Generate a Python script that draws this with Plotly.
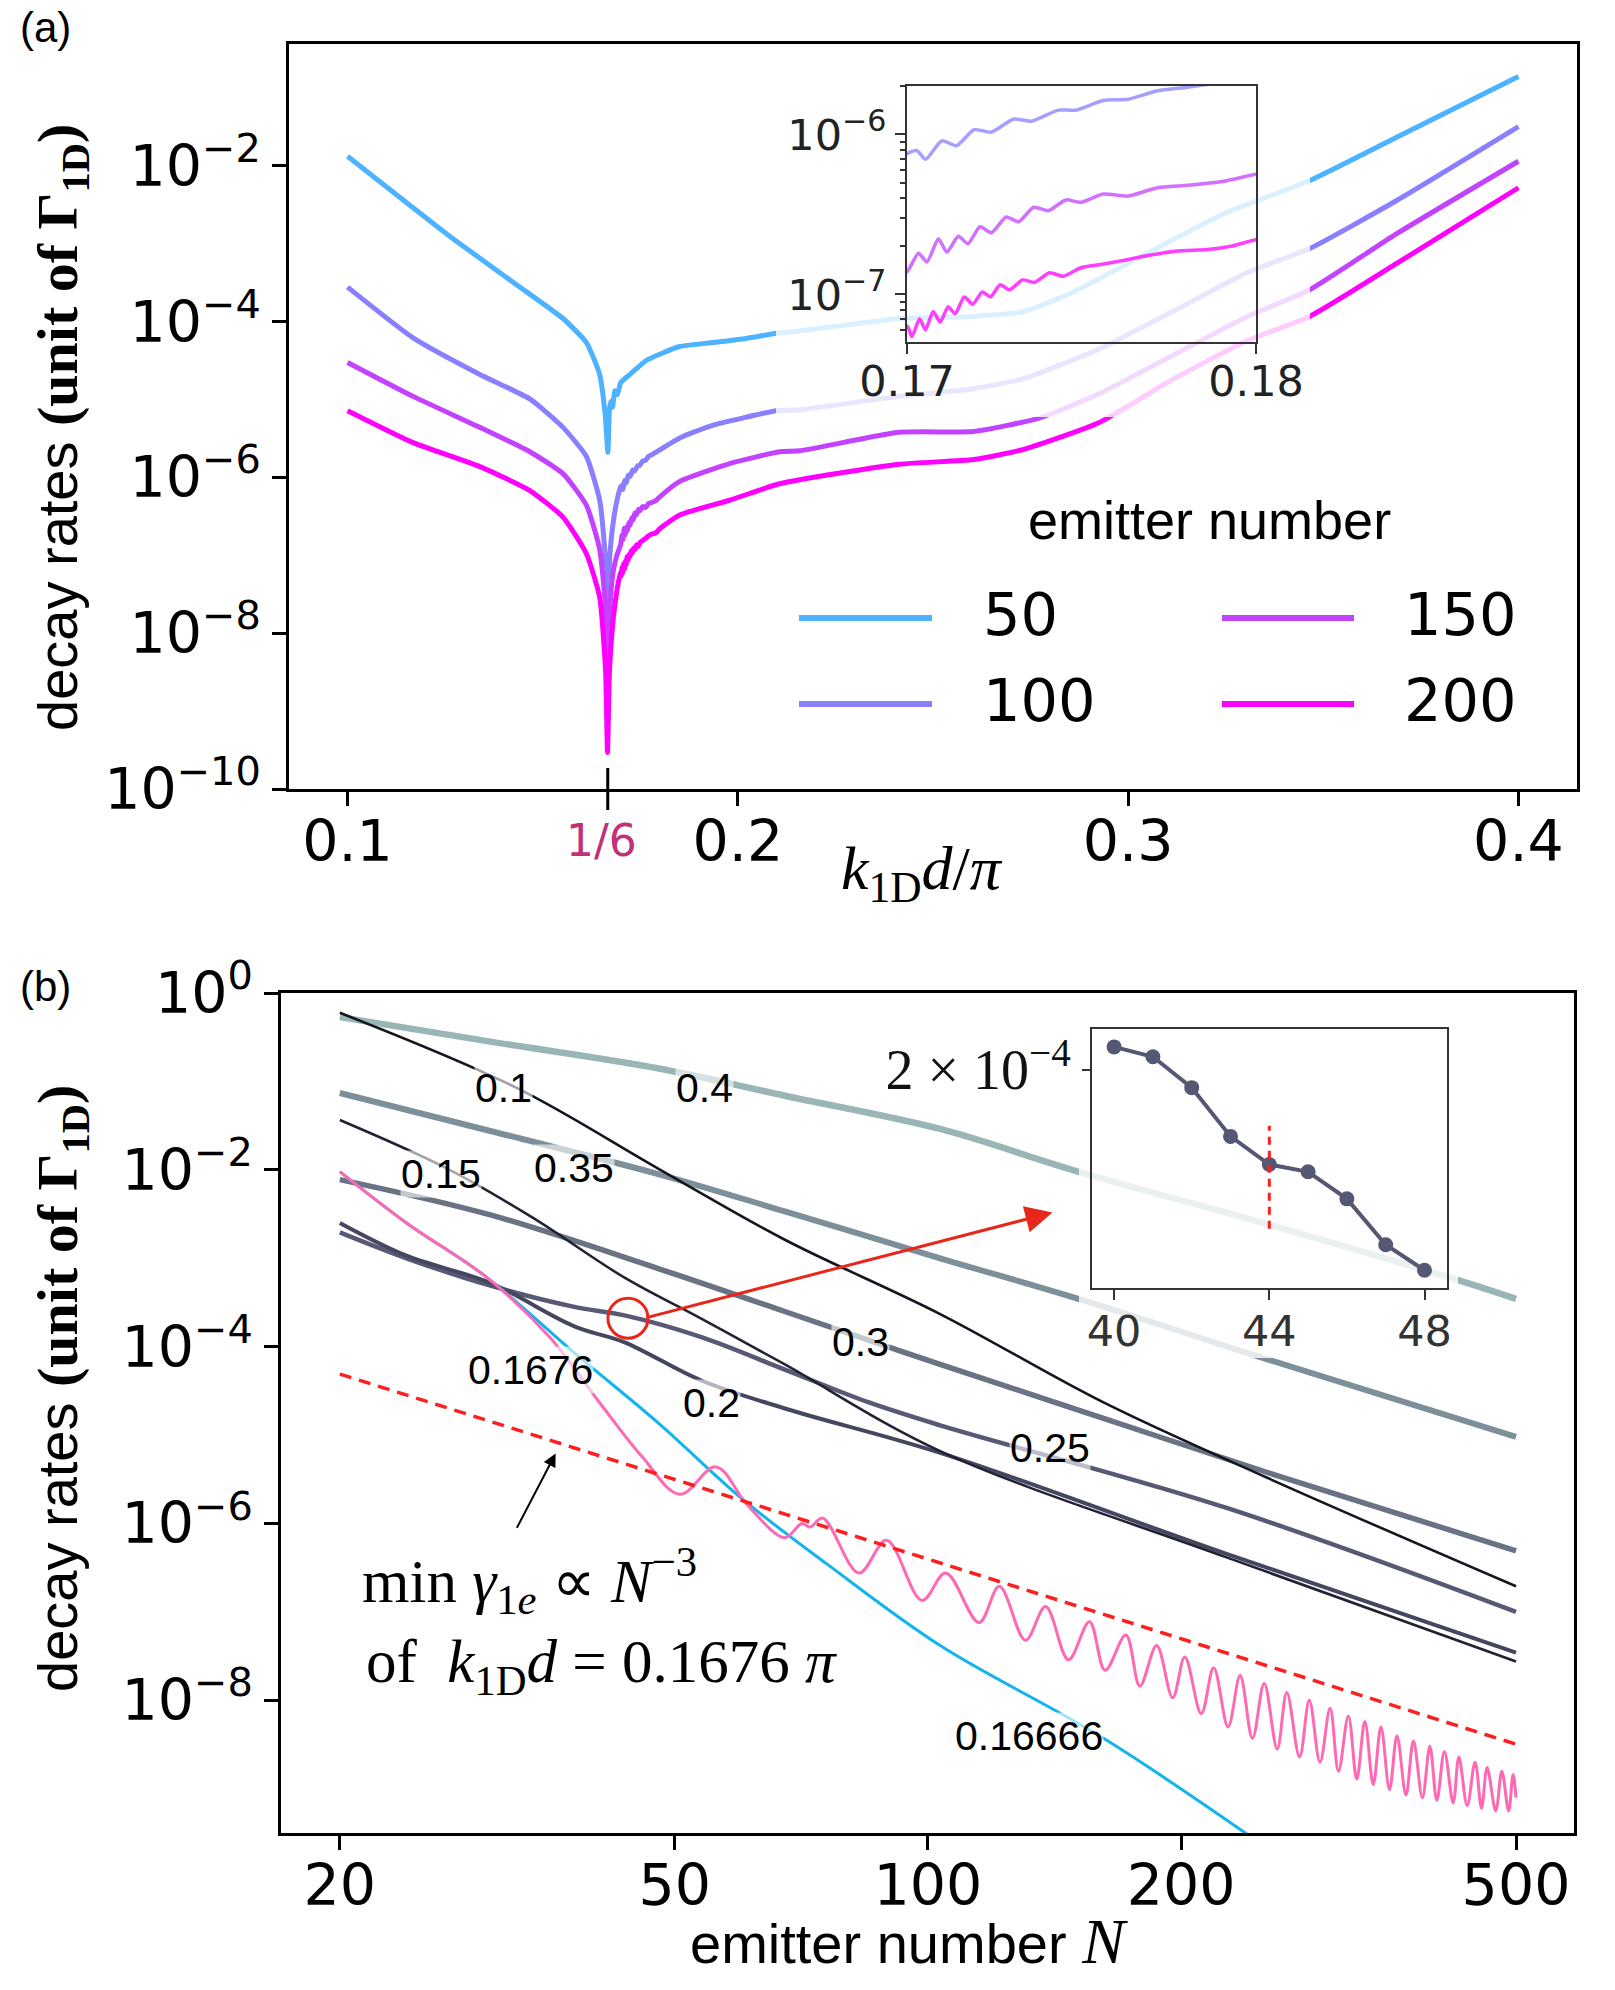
import plotly.graph_objects as go
import numpy as np

W, H = 1615, 1990

# ======================= DATA : panel (a) =======================
emitter_numbers = [50, 100, 150, 200]

kd_N50 = [0.1000, 0.1254, 0.1424, 0.1552, 0.1612, 0.1646, 0.1660, 0.1667, 0.1671, 0.1675,
          0.1679, 0.1685, 0.1691, 0.1700, 0.1723, 0.1766, 0.1851, 0.1937, 0.2022, 0.2099,
          0.2158, 0.2413, 0.2604, 0.2732, 0.2859, 0.3050, 0.3242, 0.3465, 0.3688, 0.4000]
rate_N50 = [1.33e-2, 1.34e-3, 3.21e-4, 1.10e-4, 5.4e-5, 2.1e-5, 6.5e-6, 2.1e-6, 7.5e-6, 9.5e-6,
            8.0e-6, 1.30e-5, 1.15e-5, 1.65e-5, 2.1e-5, 3.2e-5, 4.8e-5, 5.4e-5, 6.1e-5, 7.1e-5,
            7.6e-5, 1.10e-4, 1.17e-4, 1.35e-4, 2.4e-4, 7.6e-4, 2.4e-3, 6.5e-3, 2.34e-2, 1.41e-1]

kd_N100 = [0.1000, 0.1168, 0.1339, 0.1467, 0.1552, 0.1612, 0.1646, 0.1660, 0.1666, 0.1672, 0.1680, 0.1690,
           0.17000, 0.17028, 0.17053, 0.17100, 0.17142, 0.17192, 0.17242, 0.17306, 0.17356, 0.17434,
           0.17484, 0.17562, 0.17633, 0.17718, 0.17804, 0.17858,
           0.1850, 0.1937, 0.2099, 0.2158, 0.2413, 0.2604, 0.2732, 0.2923, 0.3114, 0.3306, 0.3465, 0.3688, 0.4000]
rate_N100 = [2.78e-4, 6.2e-5, 2.1e-5, 1.02e-5, 4.4e-6, 1.86e-6, 5.1e-7, 1.0e-7, 2.5e-8, 1.0e-7, 2.5e-7, 5.0e-7,
             7.57e-7, 7.94e-7, 7.0e-7, 9.14e-7, 8.51e-7, 1.07e-6, 1.035e-6, 1.25e-6, 1.21e-6, 1.42e-6,
             1.42e-6, 1.63e-6, 1.66e-6, 1.875e-6, 1.97e-6, 2.05e-6,
             3.2e-6, 4.7e-6, 7.2e-6, 7.4e-6, 1.10e-5, 1.38e-5, 1.86e-5, 4.4e-5, 1.35e-4, 4.3e-4, 8.7e-4, 3.6e-3, 3.2e-2]

kd_N150 = [0.1000, 0.1168, 0.1339, 0.1467, 0.1552, 0.1612, 0.1646, 0.1660, 0.1666, 0.1672, 0.1680, 0.1690,
           0.17000, 0.17033, 0.17057, 0.17090, 0.17114, 0.17147, 0.17175, 0.17209, 0.17242, 0.17284,
           0.17320, 0.17363, 0.17405, 0.17455, 0.17498, 0.17562, 0.17633, 0.17718, 0.17804, 0.17903, 0.18000,
           0.1851, 0.1979, 0.2107, 0.2158, 0.2413, 0.2604, 0.2770, 0.2923, 0.3114, 0.3306, 0.3465, 0.3688, 0.4000]
rate_N150 = [3.0e-5, 1.10e-5, 4.4e-6, 2.14e-6, 1.12e-6, 4.4e-7, 1.2e-7, 2.5e-8, 2.5e-9, 2.0e-8, 5.9e-8, 1.0e-7,
             1.387e-7, 1.81e-7, 1.596e-7, 2.23e-7, 1.837e-7, 2.31e-7, 2.08e-7, 2.65e-7, 2.43e-7, 3.05e-7,
             2.85e-7, 3.51e-7, 3.34e-7, 3.90e-7, 3.77e-7, 4.24e-7, 4.12e-7, 4.65e-7, 4.81e-7, 5.08e-7, 5.65e-7,
             8.9e-7, 1.51e-6, 2.14e-6, 2.20e-6, 3.8e-6, 3.9e-6, 5.75e-6, 1.17e-5, 3.7e-5, 1.17e-4, 2.57e-4, 1.35e-3, 1.15e-2]

kd_N200 = [0.1000, 0.1168, 0.1339, 0.1467, 0.1552, 0.1612, 0.1646, 0.1661, 0.1666, 0.1671, 0.1680, 0.1690,
           0.17000, 0.17014, 0.17036, 0.17053, 0.17075, 0.17095, 0.17118, 0.17138, 0.17164, 0.17188,
           0.17216, 0.17239, 0.17267, 0.17294, 0.17331, 0.17366, 0.17408, 0.17448, 0.17498, 0.17555,
           0.17619, 0.17690, 0.17775, 0.17861, 0.17932, 0.18000,
           0.1851, 0.1979, 0.2107, 0.2413, 0.2604, 0.2732, 0.2923, 0.3114, 0.3306, 0.3465, 0.3688, 0.4000]
rate_N200 = [7.2e-6, 2.8e-6, 1.38e-6, 6.8e-7, 3.1e-7, 1.05e-7, 2.9e-8, 3.4e-9, 2.95e-10, 3.2e-9, 1.41e-8, 3.5e-8,
             6.35e-8, 5.45e-8, 7.05e-8, 6.01e-8, 7.83e-8, 6.71e-8, 8.39e-8, 7.57e-8, 9.66e-8, 8.69e-8,
             1.035e-7, 9.66e-8, 1.15e-7, 1.07e-7, 1.233e-7, 1.19e-7, 1.368e-7, 1.30e-7, 1.47e-7, 1.54e-7,
             1.63e-7, 1.75e-7, 1.87e-7, 1.91e-7, 2.01e-7, 2.20e-7,
             3.3e-7, 5.1e-7, 8.3e-7, 1.48e-6, 1.70e-6, 2.29e-6, 5.0e-6, 1.82e-5, 5.75e-5, 1.17e-4, 5.6e-4, 5.25e-3]

a_xticks = [0.1, 0.2, 0.3, 0.4]
a_xticktext = ["0.1", "0.2", "0.3", "0.4"]
a_special_tick = 1 / 6
a_special_text = "1/6"
a_yticks = [1e-10, 1e-8, 1e-6, 1e-4, 1e-2]
a_yticktext = ["10<sup>\u221210</sup>", "10<sup>\u22128</sup>", "10<sup>\u22126</sup>",
               "10<sup>\u22124</sup>", "10<sup>\u22122</sup>"]
ia_xticks = [0.17, 0.18]
ia_xticktext = ["0.17", "0.18"]
ia_yticks = [1e-7, 1e-6]
ia_yticktext = ["10<sup>\u22127</sup>", "10<sup>\u22126</sup>"]
ia_yminor = [6e-8, 7e-8, 8e-8, 9e-8, 2e-7, 3e-7, 4e-7, 5e-7, 6e-7, 7e-7, 8e-7, 9e-7, 2e-6]

# ======================= DATA : panel (b) =======================
N_k040 = [20, 30.2, 47.9, 67.6, 103.4, 151, 252.7, 427.6, 500]
r_k040 = [0.533, 0.282, 0.140, 0.0689, 0.0290, 0.0095, 2.45e-3, 5.62e-4, 3.47e-4]
N_k035 = [20, 30.2, 47.9, 67.6, 103.4, 151, 252.7, 500]
r_k035 = [7.40e-2, 2.75e-2, 8.91e-3, 3.39e-3, 1.0e-3, 3.47e-4, 7.24e-5, 9.55e-6]
N_k030 = [20, 30.2, 47.9, 67.6, 103.4, 161.7, 252.7, 500]
r_k030 = [7.76e-3, 3.09e-3, 7.6e-4, 2.5e-4, 6.3e-5, 1.55e-5, 3.8e-6, 4.9e-7]
N_k025 = [20, 24, 30.2, 38, 43.6, 53.7, 67.6, 85.1, 103.4, 226, 500]
r_k025 = [1.96e-3, 1.0e-3, 4.9e-4, 2.82e-4, 2.26e-4, 1.29e-4, 5.5e-5, 2.34e-5, 1.29e-5, 1.51e-6, 1.0e-7]
N_k020 = [20, 24, 30.2, 38, 43.6, 53.7, 67.6, 103.4, 226, 500]
r_k020 = [2.51e-3, 1.07e-3, 5.25e-4, 1.70e-4, 1.12e-4, 4.17e-5, 2.0e-5, 6.3e-6, 4.57e-7, 3.47e-8]
N_k015 = [20, 26.9, 33.9, 43.6, 53.7, 67.6, 103.4, 226, 500]
r_k015 = [3.66e-2, 1.02e-2, 2.88e-3, 6.03e-4, 2.09e-4, 6.3e-5, 6.6e-6, 4.17e-7, 2.75e-8]
N_k010 = [20, 32.4, 47.9, 67.6, 103.4, 161.7, 252.7, 500]
r_k010 = [0.597, 8.5e-2, 1.02e-2, 1.62e-3, 2.34e-4, 2.34e-5, 3.31e-6, 1.95e-7]
N_k016666 = [20, 24, 29.9, 38, 47.9, 60.3, 75.9, 103.4, 161.7, 260]
r_k016666 = [9.55e-3, 2.51e-3, 6.08e-4, 8.5e-5, 1.35e-5, 1.86e-6, 3.47e-7, 4.17e-8, 3.72e-9, 1.78e-10]
N_k01676 = [20, 24, 29.9, 35.5, 40.7, 45.7, 50.7, 56.0, 61.0, 67.6, 70.8, 72.4, 75.0, 82.8, 89.3,
            98.4, 105, 115, 121.6, 130.6, 138, 146.9, 155.6, 162.4, 171.9, 178.6, 187, 195.4, 202, 211.3,
            218.6, 227.4, 235, 243.1, 251, 260.1, 267, 276.5, 284, 292.4, 300.6, 307.6, 316, 323.4, 330.6,
            338.3, 345.5, 353.7, 361, 370, 377.6, 387, 395, 402.6, 411, 421, 427.6, 437.5, 447, 455,
            462, 473, 481, 490, 496, 500]
r_k01676 = [9.55e-3, 2.51e-3, 6.08e-4, 1.29e-4, 2.34e-5, 5.75e-6, 2.14e-6, 4.37e-6, 1.62e-6, 6.92e-7,
            1.00e-6, 9.12e-7, 1.15e-6, 2.75e-7, 6.46e-7, 1.35e-7, 2.75e-7, 7.59e-8, 1.95e-7, 4.79e-8,
            1.15e-7, 2.88e-8, 7.76e-8, 2.19e-8, 5.50e-8, 1.45e-8, 4.17e-8, 1.07e-8, 3.09e-8, 7.08e-9,
            2.34e-8, 5.01e-9, 1.91e-8, 3.72e-9, 1.55e-8, 2.82e-9, 1.23e-8, 2.29e-9, 1.00e-8, 2.00e-9,
            8.13e-9, 1.58e-9, 6.61e-9, 1.29e-9, 5.75e-9, 1.12e-9, 5.01e-9, 9.77e-10, 3.98e-9, 8.51e-10,
            3.47e-9, 7.94e-10, 3.02e-9, 7.41e-10, 2.63e-9, 6.92e-10, 2.29e-9, 6.46e-10, 2.00e-9, 6.03e-10,
            1.74e-9, 5.62e-10, 1.58e-9, 5.62e-10, 1.45e-9, 7.94e-10]
N_fit = [20, 500]
r_fit = [4.9e-5, 3.2e-9]

b_xticks = [20, 50, 100, 200, 500]
b_xticktext = ["20", "50", "100", "200", "500"]
b_yticks = [1e-8, 1e-6, 1e-4, 1e-2, 1]
b_yticktext = ["10<sup>\u22128</sup>", "10<sup>\u22126</sup>", "10<sup>\u22124</sup>",
               "10<sup>\u22122</sup>", "10<sup>0</sup>"]

label_text = ["0.1", "0.4", "0.15", "0.35", "0.1676", "0.2", "0.3", "0.25", "0.16666"]
label_N = [31.3, 54.3, 26.4, 38.0, 33.7, 55.3, 83.2, 139.8, 132]
label_rate = [8.5e-2, 8.5e-2, 8.9e-3, 1.05e-2, 5.4e-5, 2.3e-5, 1.12e-4, 7.1e-6, 4.0e-9]

circle_N, circle_rate = 44, 2.1e-4
arrow_tail = (46.1, 2.11e-4)
arrow_head = (140.6, 3.3e-3)
min_arrow_tail = (32.4, 8.6e-7)
min_arrow_head = (36.1, 6.2e-6)

inset_N = [40, 41, 42, 43, 44, 45, 46, 47, 48]
inset_rate = [2.12e-4, 2.067e-4, 1.910e-4, 1.686e-4, 1.569e-4, 1.540e-4, 1.437e-4, 1.278e-4, 1.197e-4]
inset_mark_N = [44, 44]
inset_mark_rate = [1.331e-4, 1.733e-4]
ib_xticks = [40, 44, 48]
ib_yticks = [2e-4]
ib_yticktext = ["2 \u00d7 10<sup>\u22124</sup>"]

# ======================= STYLE / LAYOUT =======================
def dom_x(a, b):
    return [a / W, b / W]

def dom_y(top, bottom):
    return [1 - bottom / H, 1 - top / H]

A_X, A_Y = dom_x(289, 1577), dom_y(44, 789)
B_X, B_Y = dom_x(281, 1574), dom_y(993, 1833)
FA_X, FA_Y = dom_x(776, 1310), dom_y(60, 417)
IA_X, IA_Y = dom_x(907, 1256), dom_y(86, 342)
FB_X, FB_Y = dom_x(1079, 1458), dom_y(1015, 1358)
IB_X, IB_Y = dom_x(1092, 1447), dom_y(1029, 1288)

col_a = {50: "#4db2ff", 100: "#8a80ff", 150: "#c342ff", 200: "#ff00ff"}
series_a = {50: (kd_N50, rate_N50), 100: (kd_N100, rate_N100),
            150: (kd_N150, rate_N150), 200: (kd_N200, rate_N200)}

fig = go.Figure()

# panel (a) main curves
for n in emitter_numbers:
    kx, ry = series_a[n]
    fig.add_trace(go.Scatter(x=kx, y=ry, mode="lines", name=str(n),
                             line=dict(color=col_a[n], width=5, shape="spline", smoothing=0.5),
                             xaxis="x", yaxis="y", showlegend=False))

# panel (b) main curves
b_series = [
    ("0.4", N_k040, r_k040, "#9ab5b5", 6.5),
    ("0.35", N_k035, r_k035, "#7d8f99", 6),
    ("0.3", N_k030, r_k030, "#697384", 5.5),
    ("0.25", N_k025, r_k025, "#585a75", 4.5),
    ("0.2", N_k020, r_k020, "#45465f", 4),
    ("0.15", N_k015, r_k015, "#222233", 2.6),
    ("0.1", N_k010, r_k010, "#151520", 2.6),
    ("0.16666", N_k016666, r_k016666, "#12b4ee", 3),
    ("0.1676", N_k01676, r_k01676, "#ff69b4", 3),
]
for name, nx, ry, c, w in b_series:
    fig.add_trace(go.Scatter(x=nx, y=ry, mode="lines", name=name,
                             line=dict(color=c, width=w, shape="spline", smoothing=1.0),
                             xaxis="x2", yaxis="y2", showlegend=False))
fig.add_trace(go.Scatter(x=N_fit, y=r_fit, mode="lines", name="N^-3",
                         line=dict(color="#ff1e1e", width=3.5, dash="12px,8px"),
                         xaxis="x2", yaxis="y2", showlegend=False))
fig.add_trace(go.Scatter(x=[circle_N], y=[circle_rate], mode="markers",
                         marker=dict(symbol="circle-open", size=40, color="#e8271b",
                                     line=dict(width=3, color="#e8271b")),
                         xaxis="x2", yaxis="y2", showlegend=False))

# fade subplot (a)
fig.add_trace(go.Scatter(x=[0.5], y=[0.5], mode="markers", marker=dict(opacity=0),
                         xaxis="x3", yaxis="y3", showlegend=False, hoverinfo="skip"))
# inset (a)
for n in [100, 150, 200]:
    kx, ry = series_a[n]
    fig.add_trace(go.Scatter(x=kx, y=ry, mode="lines", name=str(n),
                             line=dict(color=col_a[n], width=3.5, shape="spline", smoothing=0.6),
                             opacity=0.75, xaxis="x4", yaxis="y4", showlegend=False))
# fade subplot (b)
fig.add_trace(go.Scatter(x=[0.5], y=[0.5], mode="markers", marker=dict(opacity=0),
                         xaxis="x5", yaxis="y5", showlegend=False, hoverinfo="skip"))
# inset (b)
fig.add_trace(go.Scatter(x=inset_N, y=inset_rate, mode="lines+markers",
                         line=dict(color="#555873", width=4),
                         marker=dict(size=15, color="#555873"),
                         xaxis="x6", yaxis="y6", showlegend=False))
fig.add_trace(go.Scatter(x=inset_mark_N, y=inset_mark_rate, mode="lines",
                         line=dict(color="#ff1e1e", width=3, dash="8px,6px"),
                         xaxis="x6", yaxis="y6", showlegend=False))

main_ax = dict(showline=True, linecolor="black", linewidth=2.5, mirror=True,
               ticks="outside", ticklen=14, tickwidth=2.5, tickcolor="black",
               showgrid=False, zeroline=False, automargin=False)
inset_ax = dict(showline=True, linecolor="#333333", linewidth=2, mirror=True,
                ticks="outside", ticklen=10, tickwidth=2, tickcolor="#333333",
                showgrid=False, zeroline=False, automargin=False)
num_font = dict(family="DejaVu Sans", size=57, color="black")
hidden = dict(visible=False, range=[0, 1], fixedrange=True, automargin=False)

fig.update_layout(
    width=W, height=H, autosize=False,
    margin=dict(l=0, r=0, t=0, b=0, pad=0, autoexpand=False),
    paper_bgcolor="white", plot_bgcolor="rgba(0,0,0,0)",
    showlegend=False,
    xaxis=dict(domain=A_X, anchor="y", range=[0.085, 0.415], tickmode="array",
               tickvals=a_xticks, ticktext=a_xticktext, tickfont=num_font,
               ticklabelstandoff=-13, **main_ax),
    yaxis=dict(domain=A_Y, anchor="x", type="log", range=[-10, -0.434], tickmode="array",
               tickvals=a_yticks, ticktext=a_yticktext, tickfont=num_font, **main_ax),
    xaxis2=dict(domain=B_X, anchor="y2", type="log", range=[1.2311, 2.7679], tickmode="array",
                tickvals=b_xticks, ticktext=b_xticktext, tickfont=num_font,
                ticklabelstandoff=-13, **main_ax),
    yaxis2=dict(domain=B_Y, anchor="x2", type="log", range=[-9.5, 0], tickmode="array",
                tickvals=b_yticks, ticktext=b_yticktext, tickfont=num_font, **main_ax),
    xaxis3=dict(domain=FA_X, anchor="y3", **hidden),
    yaxis3=dict(domain=FA_Y, anchor="x3", **hidden),
    xaxis4=dict(domain=IA_X, anchor="y4", range=[0.17, 0.18], tickmode="array",
                tickvals=ia_xticks, ticktext=ia_xticktext, ticklabelstandoff=-10,
                tickfont=dict(family="DejaVu Sans", size=43, color="#222222"), **inset_ax),
    yaxis4=dict(domain=IA_Y, anchor="x4", type="log", range=[-7.297, -5.697], tickmode="array",
                tickvals=ia_yticks, ticktext=ia_yticktext,
                tickfont=dict(family="DejaVu Sans", size=43, color="#222222"),
                minor=dict(tickmode="array", tickvals=ia_yminor, ticks="outside",
                           ticklen=5, tickwidth=1.5, tickcolor="#333333"),
                **inset_ax),
    xaxis5=dict(domain=FB_X, anchor="y5", **hidden),
    yaxis5=dict(domain=FB_Y, anchor="x5", **hidden),
    xaxis6=dict(domain=IB_X, anchor="y6", range=[39.43, 48.58], tickmode="array",
                tickvals=ib_xticks, ticktext=[str(v) for v in ib_xticks], ticklabelstandoff=-6,
                tickfont=dict(family="DejaVu Sans", size=43, color="#333333"), **inset_ax),
    yaxis6=dict(domain=IB_Y, anchor="x6", type="log", range=[-3.9416, -3.6538], tickmode="array",
                tickvals=ib_yticks, ticktext=ib_yticktext,
                tickfont=dict(family="Liberation Serif", size=56, color="#111111"),
                **{**inset_ax, "ticklen": 8}),
)

shapes = []
# translucent white boxes behind the insets (matplotlib inset bbox)
for xr, yr in [("x3", "y3"), ("x5", "y5")]:
    shapes.append(dict(type="rect", xref=xr, yref=yr, x0=0, x1=1, y0=0, y1=1,
                       fillcolor="rgba(255,255,255,0.80)", line=dict(width=0), layer="below"))
# long tick at 1/6
frac = (a_special_tick - 0.085) / (0.415 - 0.085)
xp = A_X[0] + frac * (A_X[1] - A_X[0])
shapes.append(dict(type="line", xref="paper", yref="paper", x0=xp, x1=xp,
                   y0=A_Y[0] - 21 / H, y1=A_Y[0] + 21 / H,
                   line=dict(color="black", width=3), layer="above"))
# manual legend lines (panel a)
leg_pos = {50: (799, 932, 618), 100: (799, 932, 704), 150: (1222, 1354, 618), 200: (1222, 1354, 704)}
for n in emitter_numbers:
    x0, x1, yy = leg_pos[n]
    shapes.append(dict(type="line", xref="paper", yref="paper", x0=x0 / W, x1=x1 / W,
                       y0=1 - yy / H, y1=1 - yy / H, line=dict(color=col_a[n], width=6),
                       layer="above"))
fig.update_layout(shapes=shapes)


def paper_note(x, y, text, font, xanchor="center", yanchor="middle", **kw):
    return dict(xref="paper", yref="paper", x=x / W, y=1 - y / H, text=text, showarrow=False,
                xanchor=xanchor, yanchor=yanchor, font=font, **kw)


ann = []
serif_span = "<span style=\"font-family:'Liberation Serif';font-weight:bold;font-size:58px\">"
ytitle = "decay rates " + serif_span + "(unit of \u0393<sub>1D</sub>)</span>"
for yc in [428, 1389]:
    ann.append(paper_note(61, yc, ytitle, dict(family="Liberation Sans", size=56, color="black"),
                          textangle=-90))
ann.append(paper_note(922, 873, "<i>k</i><sub>1D</sub><i>d</i>/<i>\u03c0</i>",
                      dict(family="Liberation Serif", size=62, color="black")))
ann.append(paper_note(909, 1941,
                      "emitter number <span style=\"font-family:'Liberation Serif';font-size:64px\"><i>N</i></span>",
                      dict(family="Liberation Sans", size=56, color="black")))
ann.append(paper_note(45, 27, "(a)", dict(family="Liberation Sans", size=42, color="black")))
ann.append(paper_note(45, 986, "(b)", dict(family="Liberation Sans", size=42, color="black")))
ann.append(dict(xref="x", yref="paper", x=a_special_tick, y=1 - 841 / H, text=a_special_text,
                showarrow=False, xshift=-6, xanchor="center", yanchor="middle",
                font=dict(family="DejaVu Sans", size=44, color="#c2307a")))
# legend (a)
ann.append(paper_note(1209, 520, "emitter number", dict(family="Liberation Sans", size=54, color="black")))
for n in emitter_numbers:
    x0, x1, yy = leg_pos[n]
    lx = 981 if x0 < 1000 else 1402
    ann.append(paper_note(lx, yy, str(n), dict(family="DejaVu Sans", size=59, color="black"),
                          xanchor="left", yshift=4))
# inline labels (b)
for t, n, r in zip(label_text, label_N, label_rate):
    ann.append(dict(xref="x2", yref="y2", x=np.log10(n), y=np.log10(r), text=t, showarrow=False,
                    xanchor="center", yanchor="middle",
                    bgcolor="rgba(255,255,255,0.6)", borderpad=0,
                    font=dict(family="Liberation Sans", size=41, color="black")))
# red arrow to inset
ann.append(dict(xref="x2", yref="y2", axref="x2", ayref="y2",
                x=np.log10(arrow_head[0]), y=np.log10(arrow_head[1]),
                ax=np.log10(arrow_tail[0]), ay=np.log10(arrow_tail[1]),
                text="", showarrow=True, arrowhead=2, arrowsize=1.8, arrowwidth=3,
                arrowcolor="#e8271b"))
# black arrow to N^-3 line
ann.append(dict(xref="x2", yref="y2", axref="x2", ayref="y2",
                x=np.log10(min_arrow_head[0]), y=np.log10(min_arrow_head[1]),
                ax=np.log10(min_arrow_tail[0]), ay=np.log10(min_arrow_tail[1]),
                text="", showarrow=True, arrowhead=2, arrowsize=1.3, arrowwidth=2,
                arrowcolor="black"))
ann.append(paper_note(360, 1580,
                      "min <i>\u03b3</i><sub>1<i>e</i></sub> \u221d <i>N</i><sup>\u22123</sup>",
                      dict(family="Liberation Serif", size=61, color="black"), xanchor="left"))
ann.append(paper_note(364, 1666,
                      "of  <i>k</i><sub>1D</sub><i>d</i> = 0.1676 <i>\u03c0</i>",
                      dict(family="Liberation Serif", size=61, color="black"), xanchor="left"))
fig.update_layout(annotations=ann)

fig.write_html("out.html")
